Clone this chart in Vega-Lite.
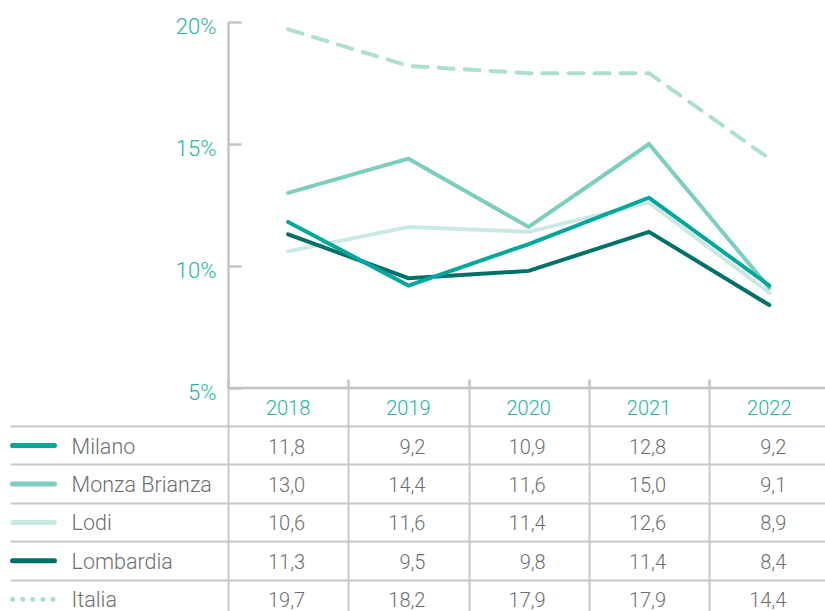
{
  "$schema": "https://vega.github.io/schema/vega-lite/v6.json",
  "background": "white",
  "autosize": {"type": "pad"},
  "padding": {"left": 10, "top": 15, "right": 0, "bottom": 0},
  "spacing": 0,
  "bounds": "flush",
  "config": {
    "view": {"stroke": null},
    "font": "Roboto",
    "locale": {
      "number": {"decimal": ",", "thousands": ".", "grouping": [3], "currency": ["", " €"]}
    }
  },
  "datasets": {
    "tasso": [
      {"serie": "Lodi", "anno": 2018, "valore": 10.6},
      {"serie": "Lodi", "anno": 2019, "valore": 11.6},
      {"serie": "Lodi", "anno": 2020, "valore": 11.4},
      {"serie": "Lodi", "anno": 2021, "valore": 12.6},
      {"serie": "Lodi", "anno": 2022, "valore": 8.9},
      {"serie": "Monza Brianza", "anno": 2018, "valore": 13.0},
      {"serie": "Monza Brianza", "anno": 2019, "valore": 14.4},
      {"serie": "Monza Brianza", "anno": 2020, "valore": 11.6},
      {"serie": "Monza Brianza", "anno": 2021, "valore": 15.0},
      {"serie": "Monza Brianza", "anno": 2022, "valore": 9.1},
      {"serie": "Lombardia", "anno": 2018, "valore": 11.3},
      {"serie": "Lombardia", "anno": 2019, "valore": 9.5},
      {"serie": "Lombardia", "anno": 2020, "valore": 9.8},
      {"serie": "Lombardia", "anno": 2021, "valore": 11.4},
      {"serie": "Lombardia", "anno": 2022, "valore": 8.4},
      {"serie": "Milano", "anno": 2018, "valore": 11.8},
      {"serie": "Milano", "anno": 2019, "valore": 9.2},
      {"serie": "Milano", "anno": 2020, "valore": 10.9},
      {"serie": "Milano", "anno": 2021, "valore": 12.8},
      {"serie": "Milano", "anno": 2022, "valore": 9.2},
      {"serie": "Italia", "anno": 2018, "valore": 19.7},
      {"serie": "Italia", "anno": 2019, "valore": 18.2},
      {"serie": "Italia", "anno": 2020, "valore": 17.9},
      {"serie": "Italia", "anno": 2021, "valore": 17.9},
      {"serie": "Italia", "anno": 2022, "valore": 14.4}
    ]
  },
  "vconcat": [
    {
      "width": 815,
      "height": 366,
      "layer": [
        {
          "data": {"name": "tasso"},
          "transform": [{"filter": "datum.serie !== 'Italia'"}],
          "mark": {"type": "line", "strokeWidth": 4, "strokeCap": "round"},
          "encoding": {
            "x": {
              "field": "anno", "type": "quantitative",
              "scale": {"domain": [2015.688, 2022.463], "nice": false, "zero": false},
              "axis": null
            },
            "y": {
              "field": "valore", "type": "quantitative",
              "scale": {"domain": [5, 20], "nice": false, "zero": false},
              "axis": {
                "orient": "left", "offset": -218, "values": [5, 10, 15, 20],
                "labelExpr": "datum.value + '%'", "title": null, "grid": false,
                "domainColor": "#c4c4c6", "domainWidth": 2.5,
                "tickColor": "#c4c4c6", "tickWidth": 2.5, "tickSize": -13,
                "labelPadding": 25, "labelColor": "#26b3a2", "labelFontSize": 22,
                "labelFont": "Roboto", "labelFontWeight": 300, "labelOffset": 4
              }
            },
            "color": {
              "field": "serie", "type": "nominal", "legend": null,
              "scale": {
                "domain": ["Milano", "Monza Brianza", "Lodi", "Lombardia", "Italia"],
                "range": ["#00a79c", "#7dcebf", "#cbe9e4", "#007068", "#ade0d3"]
              }
            },
            "detail": {"field": "serie"}
          }
        },
        {
          "data": {"name": "tasso"},
          "transform": [{"filter": "datum.serie === 'Italia'"}],
          "mark": {"type": "line", "strokeWidth": 4, "strokeCap": "round", "strokeDash": [15, 11]},
          "encoding": {
            "x": {"field": "anno", "type": "quantitative"},
            "y": {"field": "valore", "type": "quantitative"},
            "color": {"field": "serie", "type": "nominal", "legend": null}
          }
        },
        {
          "data": {"values": [{}]},
          "mark": {"type": "rule", "stroke": "#c4c4c6", "strokeWidth": 2.5},
          "encoding": {
            "x": {"datum": 2017.5, "type": "quantitative"},
            "x2": {"datum": 2022.463},
            "y": {"datum": 5, "type": "quantitative"}
          }
        }
      ]
    },
    {
      "width": 815,
      "height": 223,
      "data": {"name": "tasso"},
      "layer": [
        {
          "mark": {"type": "text", "fontSize": 20, "fontWeight": 300, "color": "#6d6e70", "align": "right", "dx": 17, "dy": 2},
          "encoding": {
            "x": {
              "field": "anno", "type": "quantitative",
              "scale": {"domain": [2015.688, 2022.463], "nice": false, "zero": false},
              "axis": {
                "orient": "top", "values": [2017.5, 2018.5, 2019.5, 2020.5, 2021.5],
                "labels": false, "domain": false, "title": null,
                "ticks": true, "tickSize": 9, "tickColor": "#c4c4c6", "tickWidth": 2.5,
                "grid": true, "gridColor": "#c8c8ca", "gridWidth": 2
              }
            },
            "y": {
              "field": "serie", "type": "nominal",
              "scale": {
                "domain": ["Anno", "Milano", "Monza Brianza", "Lodi", "Lombardia", "Italia"],
                "range": [0, 230.4], "paddingInner": 0, "paddingOuter": 0
              },
              "axis": {
                "orient": "left", "values": ["Milano", "Monza Brianza", "Lodi", "Lombardia", "Italia"],
                "bandPosition": 0, "labels": false, "ticks": false, "domain": false, "title": null,
                "grid": true, "gridColor": "#c8c8ca", "gridWidth": 2
              }
            },
            "text": {"field": "valore", "type": "quantitative", "format": ".1f"}
          }
        },
        {
          "transform": [{"filter": "datum.serie === 'Milano'"}],
          "mark": {"type": "text", "fontSize": 20, "fontWeight": 300, "color": "#26b3a2", "dy": 2},
          "encoding": {
            "x": {"field": "anno", "type": "quantitative"},
            "y": {"datum": "Anno", "type": "nominal"},
            "text": {"field": "anno", "type": "quantitative", "format": "d"}
          }
        },
        {
          "transform": [{"filter": "datum.anno === 2018 && datum.serie !== 'Italia'"}],
          "mark": {"type": "rule", "strokeWidth": 5, "strokeCap": "round"},
          "encoding": {
            "x": {"datum": 2015.709, "type": "quantitative"},
            "x2": {"datum": 2016.058},
            "y": {"field": "serie", "type": "nominal"},
            "color": {
              "field": "serie", "type": "nominal", "legend": null,
              "scale": {
                "domain": ["Milano", "Monza Brianza", "Lodi", "Lombardia", "Italia"],
                "range": ["#00a79c", "#7dcebf", "#cbe9e4", "#007068", "#ade0d3"]
              }
            }
          }
        },
        {
          "transform": [{"filter": "datum.anno === 2018 && datum.serie === 'Italia'"}],
          "mark": {"type": "rule", "strokeWidth": 5, "strokeCap": "round", "strokeDash": [0.1, 10]},
          "encoding": {
            "x": {"datum": 2015.709, "type": "quantitative"},
            "x2": {"datum": 2016.058},
            "y": {"field": "serie", "type": "nominal"},
            "color": {"field": "serie", "type": "nominal", "legend": null}
          }
        },
        {
          "transform": [{"filter": "datum.anno === 2018"}],
          "mark": {"type": "text", "fontSize": 21.5, "fontWeight": 300, "color": "#6d6e70", "align": "left", "dy": 2},
          "encoding": {
            "x": {"datum": 2016.2, "type": "quantitative"},
            "y": {"field": "serie", "type": "nominal"},
            "text": {"field": "serie", "type": "nominal"}
          }
        }
      ]
    }
  ],
  "resolve": {"scale": {"x": "independent", "y": "independent"}}
}
